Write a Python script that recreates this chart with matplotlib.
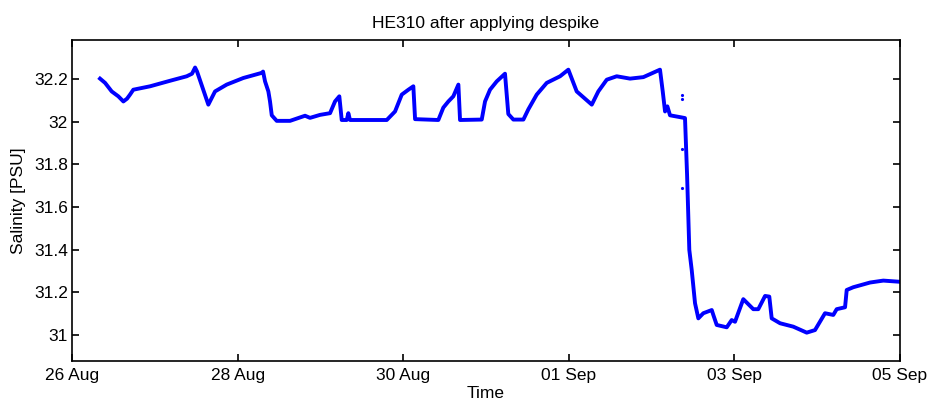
import numpy as np
import matplotlib
matplotlib.use('Agg')
import matplotlib.pyplot as plt

plt.rcParams['font.family'] = ['Liberation Sans', 'DejaVu Sans']

# time in days since 26 Aug 00:00, salinity in PSU
days = [0.338, 0.399, 0.479, 0.559, 0.620, 0.664, 0.700, 0.740, 0.942, 1.184,
        1.385, 1.449, 1.486, 1.510, 1.646, 1.727, 1.868, 2.069, 2.291, 2.307,
        2.331, 2.371, 2.391, 2.412, 2.472, 2.633, 2.814, 2.874, 2.995, 3.116,
        3.176, 3.228, 3.257, 3.318, 3.337, 3.357, 3.801, 3.901, 3.982, 4.062,
        4.122, 4.143, 4.424, 4.484, 4.545, 4.605, 4.666, 4.686, 4.948, 4.988,
        5.048, 5.129, 5.229, 5.269, 5.330, 5.451, 5.511, 5.612, 5.733, 5.894,
        5.994, 6.095, 6.277, 6.356, 6.458, 6.578, 6.739, 6.900, 7.101, 7.134,
        7.162, 7.190, 7.222, 7.363, 7.403, 7.428, 7.455, 7.484, 7.524, 7.564,
        7.624, 7.726, 7.745, 7.786, 7.907, 7.967, 8.007, 8.107, 8.228, 8.288,
        8.370, 8.421, 8.450, 8.551, 8.711, 8.873, 8.973, 9.094, 9.194, 9.235,
        9.336, 9.356, 9.436, 9.638, 9.798, 9.979]
salinity = [32.202, 32.182, 32.142, 32.119, 32.095, 32.108, 32.127, 32.150, 32.166, 32.192,
            32.213, 32.225, 32.254, 32.235, 32.080, 32.142, 32.174, 32.205, 32.229, 32.235,
            32.189, 32.142, 32.095, 32.030, 32.004, 32.004, 32.028, 32.018, 32.032, 32.040,
            32.095, 32.119, 32.008, 32.008, 32.040, 32.008, 32.008, 32.048, 32.127, 32.150,
            32.166, 32.012, 32.008, 32.066, 32.095, 32.119, 32.174, 32.008, 32.010, 32.095,
            32.150, 32.189, 32.225, 32.036, 32.010, 32.010, 32.058, 32.127, 32.182, 32.213,
            32.244, 32.142, 32.080, 32.142, 32.197, 32.213, 32.202, 32.209, 32.244, 32.142,
            32.048, 32.072, 32.030, 32.020, 32.017, 31.751, 31.399, 31.305, 31.149, 31.078,
            31.102, 31.117, 31.094, 31.047, 31.036, 31.070, 31.062, 31.168, 31.121, 31.121,
            31.183, 31.180, 31.078, 31.055, 31.039, 31.011, 31.023, 31.102, 31.094, 31.121,
            31.130, 31.211, 31.224, 31.246, 31.255, 31.250]

# isolated spikes left after despiking
spike_days = [7.367, 7.367, 7.367, 7.367]
spike_sal = [32.125, 32.105, 31.870, 31.690]

tick_days = [0, 2, 4, 6, 8, 10]
tick_labels = ['26 Aug', '28 Aug', '30 Aug', '01 Sep', '03 Sep', '05 Sep']
ytick_vals = [31, 31.2, 31.4, 31.6, 31.8, 32, 32.2]
ytick_labels = ['31', '31.2', '31.4', '31.6', '31.8', '32', '32.2']

fig = plt.figure(figsize=(9.32, 4.03), dpi=100)
ax = fig.add_axes([0.0773, 0.1042, 0.8884, 0.7965])
ax.plot(days, salinity, color='blue', linewidth=2.8, solid_joinstyle='round')
ax.plot(spike_days, spike_sal, '.', color='blue', markersize=2.5)

ax.set_xlim(0, 10)
ax.set_ylim(30.878, 32.383)
ax.set_xticks(tick_days)
ax.set_xticklabels(tick_labels)
ax.set_yticks(ytick_vals)
ax.set_yticklabels(ytick_labels)
ax.tick_params(direction='in', length=5, width=1.2, top=True, right=True,
               labelsize=12.5)
ax.tick_params(axis='x', pad=5)
ax.tick_params(axis='y', pad=3)
for s in ax.spines.values():
    s.set_linewidth(1.2)

ax.set_title('HE310 after applying despike', fontsize=12.5, pad=9)
ax.set_xlabel('Time', fontsize=12.5, labelpad=2)
ax.set_ylabel('Salinity [PSU]', fontsize=12.5, labelpad=6)

fig.savefig('out.png', dpi=100)
